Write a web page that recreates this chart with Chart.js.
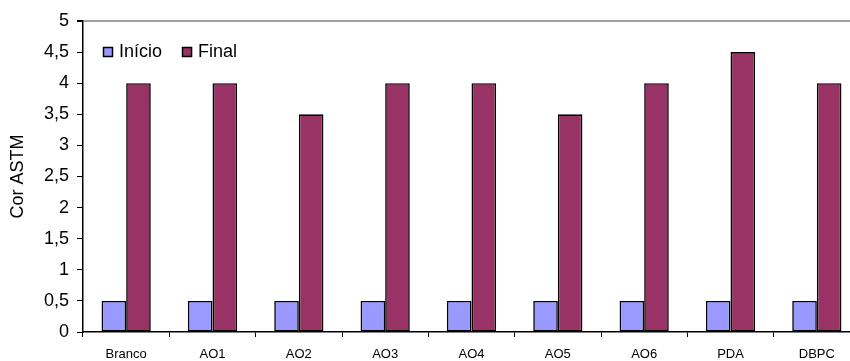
<!DOCTYPE html>
<html>
<head>
<meta charset="utf-8">
<script src="https://cdn.jsdelivr.net/npm/chart.js@4.4.1/dist/chart.umd.min.js"></script>
<style>
  html, body { margin: 0; padding: 0; background: #fff; overflow: hidden; }
  #wrap { width: 860px; height: 361px; }
</style>
</head>
<body>
<div id="wrap"><canvas id="c" width="860" height="361"></canvas></div>
<script>
// Cor ASTM por amostra, no início e no final do ensaio
const categories = ['Branco', 'AO1', 'AO2', 'AO3', 'AO4', 'AO5', 'AO6', 'PDA', 'DBPC'];
const inicio = [0.5, 0.5, 0.5, 0.5, 0.5, 0.5, 0.5, 0.5, 0.5];
const final = [4, 4, 3.5, 4, 4, 3.5, 4, 4.5, 4];
const yTicks = [0, 0.5, 1, 1.5, 2, 2.5, 3, 3.5, 4, 4.5, 5];

const FONT = "'Liberation Sans', Arial, sans-serif";

// Legend drawn inside the plot area, top-left
const insideLegend = {
  id: 'insideLegend',
  afterDatasetsDraw(chart) {
    const { ctx, chartArea } = chart;
    let x = chartArea.left + 20;
    const y = chartArea.top + 26;
    ctx.save();
    ctx.font = '18px ' + FONT;
    ctx.textBaseline = 'middle';
    ctx.textAlign = 'left';
    chart.data.datasets.forEach(ds => {
      ctx.fillStyle = ds.backgroundColor;
      ctx.fillRect(x, y, 10, 10);
      ctx.strokeStyle = '#000';
      ctx.lineWidth = 1.5;
      ctx.strokeRect(x + 0.5, y + 0.5, 9, 9);
      ctx.fillStyle = '#000';
      ctx.fillText(ds.label, x + 16, y + 5);
      x += 16 + ctx.measureText(ds.label).width + 20;
    });
    ctx.restore();
  }
};

new Chart(document.getElementById('c'), {
  type: 'bar',
  data: {
    labels: categories,
    datasets: [
      { label: 'Início', data: inicio, backgroundColor: '#9999FF', borderColor: '#000', borderWidth: 1.6, borderSkipped: false },
      { label: 'Final', data: final, backgroundColor: '#993366', borderColor: '#000', borderWidth: 1.6, borderSkipped: false }
    ]
  },
  options: {
    responsive: false,
    animation: false,
    events: [],
    layout: { padding: { top: 21, right: 0, left: 0, bottom: 0 } },
    datasets: { bar: { categoryPercentage: 0.57, barPercentage: 1 } },
    plugins: { legend: { display: false }, tooltip: { enabled: false } },
    scales: {
      x: {
        grid: { offset: true, drawOnChartArea: false, drawTicks: true, tickLength: 5, tickColor: '#000', lineWidth: 1 },
        border: { display: true, color: '#000', width: 1.5 },
        ticks: { color: '#000', font: { family: FONT, size: 13 }, padding: 10, maxRotation: 0, autoSkip: false },
        afterFit(scale) { scale.height = 29; }
      },
      y: {
        min: 0,
        max: 5,
        afterBuildTicks(scale) { scale.ticks = yTicks.map(v => ({ value: v })); },
        grid: {
          drawOnChartArea: true,
          drawTicks: true,
          tickLength: 6,
          tickColor: '#000',
          color: ctx => (ctx.tick && ctx.tick.value === 5) ? '#a0a0a0' : 'rgba(0,0,0,0)',
          lineWidth: ctx => (ctx.tick && ctx.tick.value === 5) ? 2 : 1
        },
        border: { display: true, color: '#000', width: 1.5 },
        ticks: {
          color: '#000',
          font: { family: FONT, size: 18 },
          padding: 8,
          callback: v => String(v).replace('.', ',')
        },
        title: {
          display: true,
          text: 'Cor ASTM',
          color: '#000',
          font: { family: FONT, size: 18 },
          padding: { top: 7, bottom: 0 }
        },
        afterFit(scale) { scale.width = 83; }
      }
    }
  },
  plugins: [insideLegend]
});
</script>
</body>
</html>
